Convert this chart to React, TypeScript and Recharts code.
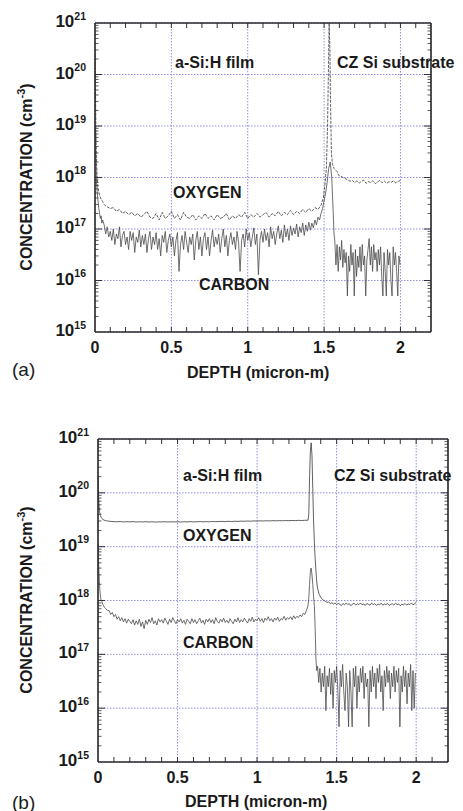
import React from 'react';
import { LineChart, Line, XAxis, YAxis, CartesianGrid, ReferenceLine } from 'recharts';

const FONT = '"Liberation Sans", Arial, Helvetica, sans-serif';

// ---------- axes ----------
const depthTicks = [0, 0.5, 1, 1.5, 2];
const depthMinor = [0.1, 0.2, 0.3, 0.4, 0.6, 0.7, 0.8, 0.9, 1.1, 1.2, 1.3, 1.4, 1.6, 1.7, 1.8, 1.9, 2.1];
const decadeTicks = [1e15, 1e16, 1e17, 1e18, 1e19, 1e20, 1e21];
const decadeMinorFactors = [2, 3, 4, 5, 6, 7, 8, 9];
const DEPTH_MAX = 2.2;

// ---------- panel (a) : oxygen ----------
const oxyA_headDepth = [0, 0.003, 0.006, 0.01, 0.015, 0.02, 0.03, 0.04, 0.05, 0.06, 0.07];
const oxyA_head = [2.5e20, 6e19, 8e18, 2e18, 9e17, 6e17, 4.5e17, 3.8e17, 3.4e17, 3e17, 2.8e17];
const oxyA_filmStart = 0.08, oxyA_filmStep = 0.02;
const oxyA_film = [
  2.7e17, 2.5e17, 2.6e17, 2.2e17, 2.4e17, 2.0e17, 2.2e17, 1.9e17, 2.1e17, 1.8e17,
  2.0e17, 1.7e17, 1.9e17, 2.2e17, 1.7e17, 1.6e17, 2.0e17, 1.5e17, 2.1e17, 1.6e17,
  1.8e17, 2.2e17, 1.6e17, 1.9e17, 1.5e17, 2.1e17, 1.7e17, 1.6e17, 1.9e17, 1.5e17,
  1.8e17, 1.6e17, 2.0e17, 1.6e17, 1.8e17, 1.5e17, 1.9e17, 1.6e17, 1.7e17, 2.0e17,
  1.5e17, 1.8e17, 1.6e17, 1.9e17, 1.7e17, 2.1e17, 1.6e17, 1.9e17, 1.7e17, 2.0e17,
  1.7e17, 1.9e17, 2.1e17, 1.7e17, 2.0e17, 1.8e17, 2.2e17, 1.8e17, 2.1e17, 1.9e17,
  2.3e17, 1.9e17, 2.2e17, 2.0e17, 2.4e17, 2.1e17, 2.5e17, 2.2e17, 2.6e17, 2.4e17,
  2.9e17,
];
const oxyA_peakDepth = [1.495, 1.505, 1.515, 1.522, 1.528, 1.533, 1.538, 1.543, 1.548, 1.555, 1.565, 1.575, 1.585, 1.595];
const oxyA_peak = [4e17, 7e17, 1.5e18, 8e18, 1e20, 1e21, 3e20, 2e19, 3e18, 1.8e18, 1.5e18, 1.4e18, 1.3e18, 1.1e18];
const oxyA_subStart = 1.61, oxyA_subStep = 0.015;
const oxyA_sub = [
  1.05e18, 1.0e18, 9.5e17, 9e17, 8.5e17, 8.8e17, 8e17, 8.6e17, 7.8e17, 8.4e17,
  8.9e17, 7.7e17, 8.3e17, 8.0e17, 8.7e17, 7.6e17, 8.2e17, 8.8e17, 7.9e17, 8.5e17,
  7.7e17, 8.3e17, 8.1e17, 8.6e17, 7.8e17, 8.4e17, 8.8e17,
];

// ---------- panel (a) : carbon ----------
const carA_headDepth = [0, 0.003, 0.006, 0.01, 0.015, 0.02, 0.025, 0.03, 0.035, 0.04, 0.045, 0.05];
const carA_head = [1e19, 5e18, 2e18, 8e17, 5e17, 3.5e17, 2.5e17, 2e17, 1.6e17, 1.8e17, 1.3e17, 1.5e17];
const carA_filmStart = 0.06, carA_filmStep = 0.01;
const carA_film = [
  1.2e17, 8e16, 1.1e17, 7e16, 9e16,
  6e16, 1e17, 5e16, 8e16, 6.5e16, 1.1e17, 4.5e16, 7.5e16, 9e16, 5e16,
  7e16, 4e16, 9e16, 6e16, 8.5e16, 3.5e16, 7e16, 5.5e16, 9.5e16, 4.5e16,
  7.5e16, 5e16, 8e16, 3.5e16, 6.5e16, 9e16, 4e16, 7e16, 5e16, 8.5e16,
  4e16, 6.5e16, 3e16, 7.5e16, 5.5e16, 9e16, 3.5e16, 6e16, 8e16, 4.5e16,
  7e16, 3e16, 6e16, 8.5e16, 1.5e16, 5e16, 7.5e16, 4e16, 9e16, 5.5e16,
  3.5e16, 7e16, 5e16, 8e16, 2.5e16, 6e16, 9e16, 4e16, 7e16, 3e16,
  6.5e16, 8.5e16, 4e16, 7e16, 3e16, 6e16, 9.5e16, 4.5e16, 7e16, 5e16,
  8e16, 3.5e16, 6.5e16, 1e17, 4.5e16, 7.5e16, 3e16, 6e16, 8.5e16, 5e16,
  7e16, 4e16, 9e16, 5.5e16, 1.5e16, 6e16, 8e16, 4.5e16, 1e17, 6e16,
  8.5e16, 4.5e16, 7e16, 1.05e17, 5e16, 8e16, 1.3e16, 6e16, 9e16, 5.5e16,
  1e17, 6e16, 8.5e16, 4.5e16, 1.1e17, 6.5e16, 9e16, 5e16, 8e16, 1.15e17,
  6.5e16, 9.5e16, 5.5e16, 1.2e17, 7e16, 1e17, 6e16, 1.15e17, 7.5e16, 1.05e17,
  8e16, 1.25e17, 7e16, 1.1e17, 8.5e16, 1.3e17, 7.5e16, 1.2e17, 9e16, 1.35e17,
  9.5e16, 1.3e17, 1.05e17, 1.5e17, 1.2e17, 1.7e17, 1.5e17, 2e17, 2.5e17,
];
const carA_peakDepth = [1.5, 1.51, 1.52, 1.53, 1.54, 1.55, 1.56, 1.565];
const carA_peak = [3.5e17, 5e17, 8e17, 1.5e18, 2e18, 1e18, 2e17, 8e16];
const carA_subStart = 1.57, carA_subStep = 0.0075;
const carA_sub = [
  6e16, 2e16, 5e16, 1.5e16, 4.5e16, 2.5e16, 6e16, 1.8e16, 4e16, 2.2e16,
  3.5e16, 5e15, 3e16, 1.5e16, 5e16, 2e16, 3.5e16, 5e15, 4e16, 1.2e16,
  3e16, 1.8e16, 4.5e16, 1.5e16, 5e16, 2e16, 3e16, 5e15, 2.5e16, 4e16,
  6.5e16, 2e16, 4.5e16, 1.5e16, 5e16, 2.5e16, 3.5e16, 1.5e16, 4e16, 2e16,
  4.5e16, 1.2e16, 5e15, 3.5e16, 1.5e16, 5e15, 4e16, 2e16, 3.5e16, 1e16,
  5e15, 4.5e16, 2e16, 3.5e16, 1.5e16, 5e15, 3e16, 2e16,
];

// ---------- panel (b) : oxygen ----------
const oxyB_headDepth = [0, 0.003, 0.006, 0.01, 0.015, 0.02, 0.03, 0.045, 0.06, 0.08];
const oxyB_head = [2e20, 1e20, 6e19, 4.5e19, 3.8e19, 3.5e19, 3.2e19, 3.05e19, 3e19, 2.95e19];
const oxyB_filmStart = 0.1, oxyB_filmStep = 0.02;
const oxyB_film = [
  2.92e19, 2.9e19, 2.93e19, 2.88e19, 2.91e19, 2.89e19, 2.92e19, 2.87e19, 2.9e19, 2.88e19,
  2.91e19, 2.87e19, 2.9e19, 2.86e19, 2.89e19, 2.88e19, 2.91e19, 2.87e19, 2.9e19, 2.88e19,
  2.9e19, 2.87e19, 2.91e19, 2.88e19, 2.92e19, 2.89e19, 2.9e19, 2.93e19, 2.89e19, 2.92e19,
  2.9e19, 2.94e19, 2.91e19, 2.93e19, 2.95e19, 2.92e19, 2.96e19, 2.93e19, 2.97e19, 2.95e19,
  2.98e19, 2.96e19, 3e19, 2.97e19, 3.01e19, 2.99e19, 3.02e19, 3e19, 3.03e19, 3.01e19,
  3.04e19, 3.02e19, 3.05e19, 3.03e19, 3.06e19, 3.04e19, 3.07e19, 3.05e19, 3.08e19, 3.06e19,
  3.09e19, 3.1e19,
];
const oxyB_peakDepth = [1.325, 1.33, 1.335, 1.34, 1.345, 1.35, 1.355, 1.36, 1.365, 1.37, 1.375, 1.38, 1.39, 1.4, 1.41];
const oxyB_peak = [4e19, 2e20, 6e20, 8.5e20, 5e20, 1.2e20, 3e19, 1.2e19, 6e18, 3.5e18, 2.2e18, 1.7e18, 1.3e18, 1.15e18, 1.05e18];
const oxyB_subStart = 1.42, oxyB_subStep = 0.01;
const oxyB_sub = [
  1e18, 9.6e17, 9.2e17, 9.4e17, 8.8e17, 9.1e17, 8.6e17, 9e17, 8.4e17, 8.9e17,
  8.5e17, 8.1e17, 8.8e17, 8.3e17, 9e17, 8.4e17, 8.7e17, 8e17, 8.6e17, 8.9e17,
  8.2e17, 8.7e17, 8.4e17, 9e17, 8.3e17, 8.6e17, 8.1e17, 8.8e17, 8.5e17, 8.2e17,
  8.9e17, 8.4e17, 8.7e17, 8.1e17, 8.6e17, 8.3e17, 8.9e17, 8.2e17, 8.6e17, 8.4e17,
  8.8e17, 8.1e17, 8.5e17, 8.7e17, 8.2e17, 8.9e17, 8.4e17, 8.6e17, 8e17, 8.5e17,
  8.3e17, 8.8e17, 8.2e17, 8.6e17, 8.4e17, 9e17, 8.3e17, 8.7e17, 9.2e17,
];

// ---------- panel (b) : carbon ----------
const carB_headDepth = [0, 0.004, 0.008, 0.012, 0.016, 0.02, 0.025, 0.03, 0.04, 0.05, 0.06];
const carB_head = [1.2e19, 5e18, 2.5e18, 1.5e18, 1.15e18, 1e18, 9.5e17, 8.5e17, 7.5e17, 7e17, 6.5e17];
const carB_filmStart = 0.07, carB_filmStep = 0.01;
const carB_film = [
  6.5e17, 5.5e17, 6e17, 5e17,
  5.5e17, 4.5e17, 5e17, 4.2e17, 4.8e17, 4e17, 4.6e17, 3.8e17, 4.5e17, 4.1e17,
  3.7e17, 4.4e17, 3.5e17, 4.2e17, 3.6e17, 4.5e17, 3.3e17, 4e17, 3e17, 4.3e17,
  3.6e17, 4.5e17, 3.9e17, 4.8e17, 3.7e17, 4.2e17, 3.5e17, 4.6e17, 4e17, 4.4e17,
  3.8e17, 4.7e17, 4.1e17, 3.6e17, 4.5e17, 3.9e17, 4.8e17, 4.2e17, 3.7e17, 4.4e17,
  4e17, 4.6e17, 3.8e17, 4.3e17, 3.6e17, 4.5e17, 4.1e17, 3.7e17, 4.6e17, 3.9e17,
  4.4e17, 3.7e17, 4.2e17, 4.7e17, 3.8e17, 4.3e17, 3.6e17, 4.5e17, 4e17, 4.6e17,
  3.9e17, 4.4e17, 3.7e17, 4.8e17, 4.1e17, 3.8e17, 4.5e17, 4e17, 4.7e17, 3.9e17,
  4.3e17, 3.8e17, 4.6e17, 4.1e17, 3.7e17, 4.5e17, 4e17, 4.8e17, 3.9e17, 4.4e17,
  4e17, 4.7e17, 4.2e17, 3.8e17, 4.6e17, 4.1e17, 4.9e17, 4e17, 4.5e17, 4.2e17,
  4.8e17, 4.1e17, 4.6e17, 3.9e17, 4.7e17, 4.3e17, 5e17, 4.2e17, 4.6e17, 4e17,
  4.7e17, 4.3e17, 4.9e17, 4.1e17, 4.6e17, 4.4e17, 5.1e17, 4.3e17, 4.8e17, 4.5e17,
  5e17, 4.4e17, 5.2e17, 4.6e17, 5.1e17, 4.8e17, 5.4e17, 5e17, 5.8e17, 5.5e17, 6.5e17, 8e17,
];
const carB_peakDepth = [1.325, 1.33, 1.335, 1.34, 1.345, 1.35, 1.355, 1.36, 1.365, 1.37, 1.375];
const carB_peak = [1.1e18, 2e18, 3.5e18, 4e18, 3e18, 2e18, 1.2e18, 8e17, 3e17, 8e16, 5e16];
const carB_subStart = 1.38, carB_subStep = 0.0075;
const carB_sub = [
  6e16, 3e16, 5.5e16, 2e16, 4.5e16, 2.5e16, 6e16, 9e15, 4e16, 2.5e16,
  5.5e16, 1.8e16, 4.5e16, 1e16, 5e16, 3e16, 6e16, 2.2e16, 4.5e15, 5e16,
  2.5e16, 6.5e16, 2e16, 9e15, 4.5e16, 2.5e16, 4.5e15, 5e16, 2e16, 4.5e15,
  5.5e16, 2.5e16, 6e16, 1e16, 4e16, 2e16, 5.5e16, 3e16, 6e16, 1.5e16,
  4.5e16, 2.5e16, 3.5e16, 4.5e15, 5e16, 2e16, 6e16, 2.5e16, 4.5e16, 1.5e16,
  5.5e16, 3e16, 6.5e16, 2e16, 4e16, 9e15, 5e16, 2.5e16, 6e16, 3e16,
  5e16, 1.5e16, 4.5e16, 2.5e16, 6e16, 2e16, 5e16, 3e16, 5.5e16, 4.5e15,
  4e16, 2e16, 6e16, 2.5e16, 5e16, 1.2e16, 4.5e16, 2.5e16, 6.5e16, 9e15,
  5e16, 1e16, 4.5e16,
];

// ---------- helpers to build point tables ----------
type Pt = { x: number; v: number };
const pairs = (xs: number[], vs: number[]): Pt[] => vs.map((v, i) => ({ x: xs[i], v }));
const even = (start: number, step: number, vs: number[]): Pt[] =>
  vs.map((v, i) => ({ x: Math.round((start + i * step) * 10000) / 10000, v }));

const oxygenA = [
  ...pairs(oxyA_headDepth, oxyA_head),
  ...even(oxyA_filmStart, oxyA_filmStep, oxyA_film),
  ...pairs(oxyA_peakDepth, oxyA_peak),
  ...even(oxyA_subStart, oxyA_subStep, oxyA_sub),
];
const carbonA = [
  ...pairs(carA_headDepth, carA_head),
  ...even(carA_filmStart, carA_filmStep, carA_film),
  ...pairs(carA_peakDepth, carA_peak),
  ...even(carA_subStart, carA_subStep, carA_sub),
];
const oxygenB = [
  ...pairs(oxyB_headDepth, oxyB_head),
  ...even(oxyB_filmStart, oxyB_filmStep, oxyB_film),
  ...pairs(oxyB_peakDepth, oxyB_peak),
  ...even(oxyB_subStart, oxyB_subStep, oxyB_sub),
];
const carbonB = [
  ...pairs(carB_headDepth, carB_head),
  ...even(carB_filmStart, carB_filmStep, carB_film),
  ...pairs(carB_peakDepth, carB_peak),
  ...even(carB_subStart, carB_subStep, carB_sub),
];

const yMinor: number[] = [];
for (let d = 15; d < 21; d++) for (const f of decadeMinorFactors) yMinor.push(f * Math.pow(10, d));
const yMajorInner = decadeTicks.slice(1, -1);

const YW = 60;
const XH = 30;

const YTick = (props: any) => {
  const { x, y, payload } = props;
  const exp = Math.round(Math.log10(payload.value));
  return (
    <text x={x - 9} y={y + 4} textAnchor="end" fontFamily={FONT} fontWeight="bold" fontSize={17} fill="#1a1a1a">
      <tspan>10</tspan>
      <tspan dy={-7.5} fontSize={10.5}>{exp}</tspan>
    </text>
  );
};

const XTick = (props: any) => {
  const { x, y, payload } = props;
  return (
    <text x={x} y={y + 20.7} textAnchor="middle" fontFamily={FONT} fontWeight="bold" fontSize={16} fill="#1a1a1a">
      {String(payload.value)}
    </text>
  );
};

type PanelProps = {
  chartTop: number;
  chartHeight: number;
  plot: { left: number; right: number; top: number; bottom: number };
  oxygen: Pt[];
  carbon: Pt[];
  oxyDash?: string;
};

function Panel({ chartTop, chartHeight, plot, oxygen, carbon, oxyDash }: PanelProps) {
  const W = 463;
  const margin = {
    top: plot.top - chartTop,
    left: plot.left - YW,
    right: W - plot.right,
    bottom: chartTop + chartHeight - plot.bottom - XH,
  };
  const pxPerX = (plot.right - plot.left) / DEPTH_MAX;
  const pxPerDec = (plot.bottom - plot.top) / 6;
  const dx = (px: number) => px / pxPerX;
  const fy = (px: number) => Math.pow(10, px / pxPerDec);
  const tickStroke = '#333';
  const frame = '#2a2a2a';
  const lines: React.ReactNode[] = [];
  // y ticks, left & right
  yMinor.forEach((v, i) => {
    lines.push(<ReferenceLine key={`yl${i}`} segment={[{ x: 0, y: v }, { x: dx(3.5), y: v }]} stroke={tickStroke} strokeWidth={0.8} />);
    lines.push(<ReferenceLine key={`yr${i}`} segment={[{ x: DEPTH_MAX - dx(3.5), y: v }, { x: DEPTH_MAX, y: v }]} stroke={tickStroke} strokeWidth={0.8} />);
  });
  yMajorInner.forEach((v, i) => {
    lines.push(<ReferenceLine key={`yL${i}`} segment={[{ x: 0, y: v }, { x: dx(7), y: v }]} stroke={tickStroke} strokeWidth={1} />);
    lines.push(<ReferenceLine key={`yR${i}`} segment={[{ x: DEPTH_MAX - dx(7), y: v }, { x: DEPTH_MAX, y: v }]} stroke={tickStroke} strokeWidth={1} />);
  });
  [...depthMinor, ...depthTicks.slice(1)].forEach((v, i) => {
    lines.push(<ReferenceLine key={`xb${i}`} segment={[{ x: v, y: 1e15 }, { x: v, y: 1e15 * fy(5) }]} stroke={tickStroke} strokeWidth={1} />);
    lines.push(<ReferenceLine key={`xt${i}`} segment={[{ x: v, y: 1e21 / fy(5) }, { x: v, y: 1e21 }]} stroke={tickStroke} strokeWidth={1} />);
  });
  return (
    <div style={{ position: 'absolute', left: 0, top: chartTop, width: W, height: chartHeight }}>
      <LineChart width={W} height={chartHeight} margin={margin}>
        <CartesianGrid stroke="#8f8fe0" strokeDasharray="1.5 1.5" strokeWidth={1} />
        <XAxis
          type="number"
          dataKey="x"
          domain={[0, DEPTH_MAX]}
          ticks={depthTicks}
          allowDataOverflow
          height={XH}
          tickSize={0}
          tickMargin={0}
          axisLine={false}
          tickLine={false}
          tick={<XTick />}
          interval={0}
        />
        <YAxis
          type="number"
          scale="log"
          domain={[1e15, 1e21]}
          ticks={decadeTicks}
          allowDataOverflow
          width={YW}
          tickSize={0}
          tickMargin={0}
          axisLine={false}
          tickLine={false}
          tick={<YTick />}
          interval={0}
        />
        {lines}
        <Line data={carbon} dataKey="v" type="linear" stroke="#4a4a4a" strokeWidth={0.8} dot={false} isAnimationActive={false} />
        <Line data={oxygen} dataKey="v" type="linear" stroke="#3a3a3a" strokeWidth={0.8} strokeDasharray={oxyDash} dot={false} isAnimationActive={false} />
        <ReferenceLine x={0} stroke={frame} strokeWidth={1.6} />
        <ReferenceLine x={DEPTH_MAX} stroke={frame} strokeWidth={1.6} />
        <ReferenceLine y={1e15} stroke={frame} strokeWidth={1.6} />
        <ReferenceLine y={1e21} stroke={frame} strokeWidth={1.6} />
      </LineChart>
    </div>
  );
}

const boldText: React.CSSProperties = {
  position: 'absolute',
  fontFamily: FONT,
  fontWeight: 'bold',
  fontSize: 16,
  lineHeight: '16px',
  color: '#1a1a1a',
  whiteSpace: 'nowrap',
};

const Label = ({ left, cy, children, size = 16, weight = 'bold' }: any) => (
  <div style={{ ...boldText, left, top: cy - size / 2, fontSize: size, lineHeight: `${size}px`, fontWeight: weight }}>{children}</div>
);

const YTitle = ({ cx, cy }: { cx: number; cy: number }) => (
  <div
    style={{
      ...boldText,
      left: cx,
      top: cy,
      transform: 'translate(-50%, -50%) rotate(-90deg)',
    }}
  >
    CONCENTRATION (cm<span style={{ fontSize: 11, position: 'relative', top: -7 }}>-3</span>)
  </div>
);

export default function App() {
  return (
    <div style={{ position: 'absolute', left: 0, top: 0, width: 463, height: 811, background: '#fff', overflow: 'hidden' }}>
      <Panel chartTop={0} chartHeight={400} plot={{ left: 95, right: 431, top: 23, bottom: 332 }} oxygen={oxygenA} carbon={carbonA} oxyDash="3 1.2" />
      <Panel chartTop={400} chartHeight={411} plot={{ left: 98, right: 448, top: 439, bottom: 762 }} oxygen={oxygenB} carbon={carbonB} />

      <YTitle cx={27} cy={177} />
      <YTitle cx={27} cy={600} />

      <Label left={175} cy={63}>a-Si:H film</Label>
      <Label left={337} cy={63}>CZ Si substrate</Label>
      <Label left={173} cy={193}>OXYGEN</Label>
      <Label left={199} cy={285}>CARBON</Label>
      <Label left={187} cy={373}>DEPTH (micron-m)</Label>
      <Label left={12} cy={369} size={19} weight="normal">(a)</Label>

      <Label left={183} cy={476}>a-Si:H film</Label>
      <Label left={334} cy={476}>CZ Si substrate</Label>
      <Label left={183} cy={536}>OXYGEN</Label>
      <Label left={183} cy={643}>CARBON</Label>
      <Label left={185} cy={802}>DEPTH (micron-m)</Label>
      <Label left={12} cy={802} size={19} weight="normal">(b)</Label>
    </div>
  );
}
